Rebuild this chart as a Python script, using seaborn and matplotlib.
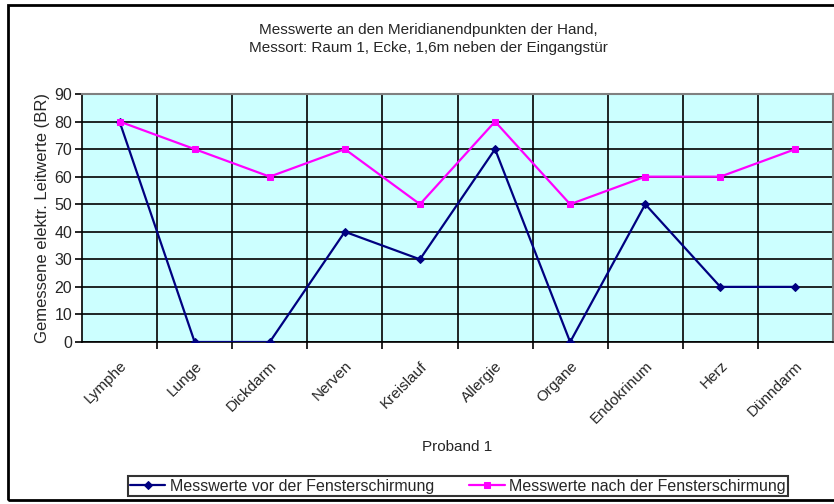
import matplotlib
matplotlib.use('Agg')
import matplotlib.pyplot as plt
import seaborn as sns
import pandas as pd
from matplotlib.patches import Rectangle

categories = ['Lymphe', 'Lunge', 'Dickdarm', 'Nerven', 'Kreislauf',
              'Allergie', 'Organe', 'Endokrinum', 'Herz', 'Dünndarm']
vorher = [80, 0, 0, 40, 30, 70, 0, 50, 20, 20]
nachher = [80, 70, 60, 70, 50, 80, 50, 60, 60, 70]
y_ticks = list(range(0, 100, 10))

label_vor = 'Messwerte vor der Fensterschirmung'
label_nach = 'Messwerte nach der Fensterschirmung'
title = ('Messwerte an den Meridianendpunkten der Hand,\n'
         'Messort: Raum 1, Ecke, 1,6m neben der Eingangstür')


def build_frame():
    pos = list(range(len(categories)))
    return pd.DataFrame({'pos': pos, 'vor': vorher, 'nach': nachher})


def plot_chart(df):
    sns.set_theme(style='white')
    plt.rcParams['font.family'] = ['Liberation Sans', 'DejaVu Sans']

    fig = plt.figure(figsize=(8.34, 5.04), dpi=100)
    ax = fig.add_axes([82 / 834, 1 - 342 / 504, 751 / 834, 248 / 504])
    ax.set_facecolor('#CCFFFF')

    sns.lineplot(data=df, x='pos', y='vor', ax=ax, color='#000080',
                 marker='D', markersize=4, linewidth=1.6,
                 markeredgecolor='#000080', label=label_vor, zorder=4)
    sns.lineplot(data=df, x='pos', y='nach', ax=ax, color='#FF00FF',
                 marker='s', markersize=5, linewidth=1.6,
                 markeredgecolor='#FF00FF', label=label_nach, zorder=4)

    ax.set_xlim(-0.5, len(categories) - 0.5)
    ax.set_ylim(0, 90)
    ax.set_yticks(y_ticks)
    ax.set_xticks(df['pos'])
    ax.set_xticklabels(categories, rotation=45, ha='right',
                       rotation_mode='anchor', fontsize=11)
    ax.set_xticks([p + 0.5 for p in df['pos'][:-1]], minor=True)
    ax.tick_params(axis='x', which='major', length=0, pad=12)
    ax.tick_params(axis='x', which='minor', length=5, width=1.2,
                   color='black', direction='out', bottom=True)
    ax.tick_params(axis='y', length=5, width=1.2, color='black',
                   direction='out', left=True, labelsize=11.5, pad=2)

    ax.grid(True, axis='y', which='major', color='black', linewidth=1.2)
    ax.grid(True, axis='x', which='minor', color='black', linewidth=1.2)
    ax.grid(False, axis='x', which='major')
    ax.set_axisbelow(True)

    for side in ['left', 'bottom']:
        ax.spines[side].set_color('black')
        ax.spines[side].set_linewidth(1.2)
    for side in ['top', 'right']:
        ax.spines[side].set_color('#808080')
        ax.spines[side].set_linewidth(1.5)

    ax.set_xlabel('Proband 1', fontsize=11, labelpad=10)
    ax.set_ylabel('Gemessene elektr. Leitwerte (BR)', fontsize=12,
                  labelpad=3)
    fig.text(428 / 834, 1 - 39 / 504, title, ha='center', va='center',
             fontsize=11, linespacing=1.4)

    leg = ax.legend(loc='center', bbox_to_anchor=(458 / 834, 1 - 486 / 504),
                    bbox_transform=fig.transFigure, ncol=2, fontsize=11.5,
                    frameon=True, fancybox=False, handlelength=2.2,
                    columnspacing=2.2, borderpad=0.15, handletextpad=0.3)
    leg.get_frame().set_edgecolor('black')
    leg.get_frame().set_linewidth(1.5)

    fig.patches.append(Rectangle((8 / 834, 1 - 500 / 504), 1.0, 495 / 504,
                                 transform=fig.transFigure, fill=False,
                                 edgecolor='black', linewidth=2, clip_on=False))

    fig.savefig('out.png', dpi=100)


def main():
    df = build_frame()
    plot_chart(df)


if __name__ == '__main__':
    main()
